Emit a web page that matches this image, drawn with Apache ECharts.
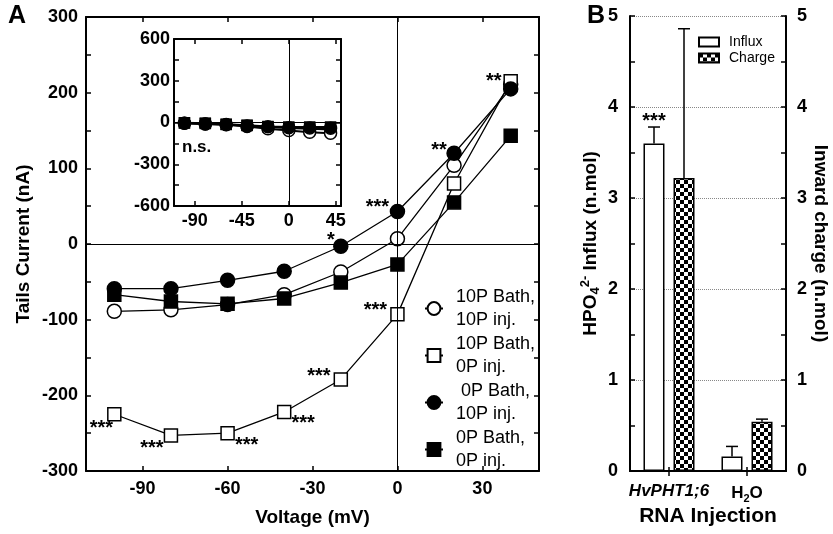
<!DOCTYPE html>
<html>
<head>
<meta charset="UTF-8">
<title>Tail currents and HPO4 influx</title>
<script src="https://cdn.jsdelivr.net/npm/echarts@6.0.0/dist/echarts.min.js"></script>
<style>
    * { margin: 0; padding: 0; box-sizing: border-box; }
    body { background: #fff; }
    #chart { width: 833px; height: 534px; }
</style>
</head>
<body>
<div id="chart"></div>
<script>
// ---- Panel A: tail currents (nA) vs voltage (mV) ----
const voltages = [-100, -80, -60, -40, -20, 0, 20, 40];
const seriesNames = ['10P Bath,\n10P inj.', '10P Bath,\n0P inj.', ' 0P Bath,\n10P inj.', '0P Bath,\n0P inj.'];
const bath10inj10 = [-89, -87, -80, -67, -37, 7, 104, 211];
const bath10inj0 = [-225, -253, -250, -222, -179, -93, 80, 215];
const bath0inj10 = [-59, -59, -48, -36, -3, 43, 120, 205];
const bath0inj0 = [-67, -76, -79, -72, -51, -27, 55, 143];
// inset (same conditions, larger scale)
const insetBath10inj10 = [-5, -10, -16, -28, -45, -57, -70, -77];
const insetBath10inj0 = [-3, -8, -14, -22, -30, -40, -45, -50];
const insetBath0inj10 = [-5, -10, -15, -25, -30, -38, -40, -42];
const insetBath0inj0 = [-2, -6, -12, -20, -28, -32, -32, -32];
const mainXTicks = [-90, -60, -30, 0, 30];
const insetXTicks = [-90, -45, 0, 45];
// significance marks: [voltage, current, text]
const starsA = [
    [-100, -225, '***'], [-80, -253, '***'], [-60, -250, '***'], [-40, -222, '***'],
    [-20, -179, '***'], [0, -93, '***'], [-20, -3, '*'], [0, 43, '***'],
    [20, 120, '**'], [40, 213, '**']
];
const starOffsetsA = [[-13, 14], [-19, 13], [19, 12], [19, 12], [-22, -3], [-22, -4], [-10, -6], [-20, -4], [-15, -3], [-17, -1]];

// ---- Panel B: HPO4 influx and inward charge ----
const rnaCategories = ['HvPHT1;6', 'H2O'];
const influx = [3.6, 0.16];
const influxErr = [0.18, 0.11];
const charge = [3.22, 0.54];
const chargeErr = [1.64, 0.03];
const starsB = ['***', ''];

const FONT = "'Liberation Sans', Arial, sans-serif";
const chartDom = document.getElementById('chart');
const myChart = echarts.init(chartDom);

function pairs(arr) {
    return voltages.map((v, i) => [v, arr[i]]);
}

function checker() {
    const c = document.createElement('canvas');
    c.width = 8; c.height = 8;
    const g = c.getContext('2d');
    g.fillStyle = '#fff'; g.fillRect(0, 0, 8, 8);
    g.fillStyle = '#000'; g.fillRect(0, 0, 4, 4); g.fillRect(4, 4, 4, 4);
    return c;
}

const styles = [
    { symbol: 'circle', color: '#fff' },
    { symbol: 'rect', color: '#fff' },
    { symbol: 'circle', color: '#000' },
    { symbol: 'rect', color: '#000' }
];

function lineSeries(name, data, idx, style, inset) {
    const isRect = style.symbol === 'rect';
    return {
        name: name,
        type: 'line',
        xAxisIndex: idx, yAxisIndex: idx,
        data: pairs(data),
        symbol: style.symbol,
        symbolSize: inset ? (isRect ? 10 : 12) : (isRect ? 13 : 14),
        lineStyle: { color: '#000', width: inset ? 2 : 1.3 },
        itemStyle: { color: style.color, borderColor: '#000', borderWidth: 1.5 },
        emphasis: { disabled: true },
        z: 3
    };
}

const tickLine = { color: '#000', width: 1.5 };
const labelFont = { color: '#000', fontSize: 18, fontWeight: 'bold', fontFamily: FONT };
const starLabel = { color: '#000', opacity: 1, fontSize: 20, fontWeight: 'bold', fontFamily: FONT,
    textBorderWidth: 0, textBorderColor: 'transparent' };

function valueX(grid, min, max, ticks, pos, showLabel, margin) {
    return {
        type: 'value', gridIndex: grid, position: pos, min: min, max: max,
        axisLine: { show: true, onZero: false, lineStyle: { color: '#000', width: 2 } },
        axisTick: { show: true, inside: true, length: 5, customValues: ticks, lineStyle: tickLine },
        axisLabel: Object.assign({ show: showLabel, customValues: ticks, margin: margin }, labelFont),
        splitLine: { show: false }
    };
}

function valueY(grid, min, max, interval, pos, showLabel, margin) {
    return {
        type: 'value', gridIndex: grid, position: pos, min: min, max: max, interval: interval,
        axisLine: { show: true, onZero: false, lineStyle: { color: '#000', width: 2 } },
        axisTick: { show: true, inside: true, length: 5, lineStyle: tickLine },
        minorTick: { show: true, splitNumber: 2, length: 5, lineStyle: tickLine },
        axisLabel: Object.assign({ show: showLabel, margin: margin }, labelFont),
        splitLine: { show: false }
    };
}

const zeroLines = {
    silent: true,
    symbol: 'none',
    label: { show: false },
    lineStyle: { color: '#000', width: 1, type: 'solid' },
    data: [{ xAxis: 0 }, { yAxis: 0 }],
    animation: false
};

const series = [];
[bath10inj10, bath10inj0, bath0inj10, bath0inj0].forEach((d, i) => {
    const s = lineSeries(seriesNames[i], d, 0, styles[i], false);
    if (i === 0) s.markLine = zeroLines;
    series.push(s);
});
// inset: squares drawn first so the filled circles sit on top
const insetSets = [insetBath10inj10, insetBath10inj0, insetBath0inj10, insetBath0inj0];
[1, 3, 0, 2].forEach((i, k) => {
    const s = lineSeries(seriesNames[i], insetSets[i], 1, styles[i], true);
    if (k === 0) s.markLine = zeroLines;
    series.push(s);
});

series.push({
    type: 'scatter', xAxisIndex: 0, yAxisIndex: 0, symbolSize: 0, silent: true, z: 5,
    itemStyle: { opacity: 1 },
    data: starsA.map((s, i) => ({
        value: [s[0], s[1]],
        label: Object.assign({ show: true, formatter: s[2], offset: starOffsetsA[i], position: 'inside' }, starLabel)
    }))
});

// panel B bars
const BAR_W = 21, BAR_OFF = 15;
series.push({
    name: 'Influx', type: 'bar', xAxisIndex: 2, yAxisIndex: 2,
    data: influx, barWidth: BAR_W, barGap: '43%',
    itemStyle: { color: '#fff', borderColor: '#000', borderWidth: 1.5 },
    emphasis: { disabled: true }
});
series.push({
    name: 'Charge', type: 'bar', xAxisIndex: 2, yAxisIndex: 2,
    data: charge, barWidth: BAR_W,
    itemStyle: { color: { image: checker(), repeat: 'repeat' }, borderColor: '#000', borderWidth: 1.5 },
    emphasis: { disabled: true }
});

function errorBar(offset) {
    return function (params, api) {
        const i = api.value(0), v = api.value(1), e = api.value(2);
        const lo = api.coord([i, v]);
        const hi = api.coord([i, v + e]);
        const x = lo[0] + offset;
        return {
            type: 'group',
            children: [
                { type: 'line', shape: { x1: x, y1: lo[1], x2: x, y2: hi[1] }, style: { stroke: '#000', lineWidth: 1.5 } },
                { type: 'line', shape: { x1: x - 6, y1: hi[1], x2: x + 6, y2: hi[1] }, style: { stroke: '#000', lineWidth: 1.5 } }
            ]
        };
    };
}
series.push({
    type: 'custom', xAxisIndex: 2, yAxisIndex: 2, silent: true, z: 4,
    renderItem: errorBar(-BAR_OFF),
    data: influx.map((v, i) => [i, v, influxErr[i]])
});
series.push({
    type: 'custom', xAxisIndex: 2, yAxisIndex: 2, silent: true, z: 4,
    renderItem: errorBar(BAR_OFF),
    data: charge.map((v, i) => [i, v, chargeErr[i]])
});
series.push({
    type: 'scatter', xAxisIndex: 2, yAxisIndex: 2, symbolSize: 0, silent: true, z: 5,
    itemStyle: { opacity: 1 },
    data: influx.map((v, i) => ({
        value: [i, v + influxErr[i]],
        label: Object.assign({ show: true, formatter: starsB[i], offset: [-BAR_OFF, -6], position: 'inside' }, starLabel)
    }))
});

const option = {
    animation: false,
    backgroundColor: '#fff',
    textStyle: { fontFamily: FONT },
    grid: [
        { left: 86, top: 17, width: 453, height: 454 },
        { left: 174, top: 39, width: 167, height: 167 },
        { left: 630, top: 16, width: 156, height: 455 }
    ],
    legend: [
        {
            data: seriesNames,
            orient: 'vertical', left: 424, top: 274, padding: 0,
            itemWidth: 18, itemHeight: 16, itemGap: -22,
            textStyle: { color: '#000', fontSize: 18, lineHeight: 23, fontFamily: FONT, padding: [23, 0, 0, 8] },
            selectedMode: false
        },
        {
            data: ['Influx', 'Charge'],
            orient: 'vertical', left: 698, top: 35, padding: 0,
            icon: 'rect', itemWidth: 20, itemHeight: 9, itemGap: 2,
            textStyle: { color: '#000', fontSize: 14, fontFamily: FONT, padding: [0, 0, 0, 5] },
            selectedMode: false
        }
    ],
    xAxis: [
        Object.assign(valueX(0, -110, 50, mainXTicks, 'bottom', true, 9), {
            name: 'Voltage (mV)', nameLocation: 'middle', nameGap: 37, nameMoveOverlap: false,
            nameTextStyle: { color: '#000', fontSize: 19, fontWeight: 'bold', fontFamily: FONT }
        }),
        valueX(1, -110, 50, insetXTicks, 'bottom', true, 6),
        {
            type: 'category', gridIndex: 2, position: 'bottom', data: rnaCategories,
            axisLine: { show: true, lineStyle: { color: '#000', width: 2 } },
            axisTick: { show: true, inside: true, alignWithLabel: true, length: 4, lineStyle: tickLine },
            axisLabel: {
                margin: 12, interval: 0,
                formatter: v => v === 'H2O' ? '{b|H}{s|2}{b|O}' : '{i|' + v + '}',
                rich: {
                    b: { color: '#000', fontSize: 17, fontWeight: 'bold', fontFamily: FONT },
                    i: { color: '#000', fontSize: 17, fontWeight: 'bold', fontStyle: 'italic', fontFamily: FONT },
                    s: { color: '#000', fontSize: 11, fontWeight: 'bold', fontFamily: FONT, padding: [10, 0, 0, 0] }
                }
            },
            name: 'RNA Injection', nameLocation: 'middle', nameGap: 35, nameMoveOverlap: false,
            nameTextStyle: { color: '#000', fontSize: 21, fontWeight: 'bold', fontFamily: FONT }
        },
        valueX(0, -110, 50, mainXTicks, 'top', false, 0),
        valueX(1, -110, 50, insetXTicks, 'top', false, 0),
        {
            type: 'category', gridIndex: 2, position: 'top', data: rnaCategories,
            axisLine: { show: true, lineStyle: { color: '#000', width: 2 } },
            axisTick: { show: true, inside: true, alignWithLabel: true, length: 5, lineStyle: tickLine },
            axisLabel: { show: false }
        }
    ],
    yAxis: [
        Object.assign(valueY(0, -300, 300, 100, 'left', true, 8), {
            name: 'Tails Current (nA)', nameLocation: 'middle', nameGap: 53, nameMoveOverlap: false,
            nameTextStyle: { color: '#000', fontSize: 19, fontWeight: 'bold', fontFamily: FONT }
        }),
        valueY(1, -600, 600, 300, 'left', true, 4),
        Object.assign(valueY(2, 0, 5, 1, 'left', true, 12), {
            splitLine: { show: true, lineStyle: { color: '#888', width: 1, type: 'dotted' } },
            name: '{b|HPO}{s|4}{p|2-}{b| Influx (n.mol)}', nameLocation: 'middle', nameGap: 28, nameMoveOverlap: false,
            nameTextStyle: {
                rich: {
                    b: { color: '#000', fontSize: 19, fontWeight: 'bold', fontFamily: FONT },
                    s: { color: '#000', fontSize: 13, fontWeight: 'bold', fontFamily: FONT, padding: [10, 0, 0, 0] },
                    p: { color: '#000', fontSize: 13, fontWeight: 'bold', fontFamily: FONT, padding: [0, 0, 10, 0] }
                }
            }
        }),
        valueY(0, -300, 300, 100, 'right', false, 0),
        valueY(1, -600, 600, 300, 'right', false, 0),
        Object.assign(valueY(2, 0, 5, 1, 'right', true, 11), {
            name: 'Inward charge (n.mol)', nameLocation: 'middle', nameGap: 25, nameRotate: -90, nameMoveOverlap: false,
            nameTextStyle: { color: '#000', fontSize: 19, fontWeight: 'bold', fontFamily: FONT }
        })
    ],
    graphic: [
        { type: 'text', left: 8, top: 4, style: { text: 'A', fill: '#000', font: 'bold 25px ' + FONT } },
        { type: 'text', left: 587, top: 4, style: { text: 'B', fill: '#000', font: 'bold 25px ' + FONT } },
        { type: 'text', left: 182, top: 139, style: { text: 'n.s.', fill: '#000', font: 'bold 17px ' + FONT } }
    ],
    series: series
};

myChart.setOption(option);
</script>
</body>
</html>
